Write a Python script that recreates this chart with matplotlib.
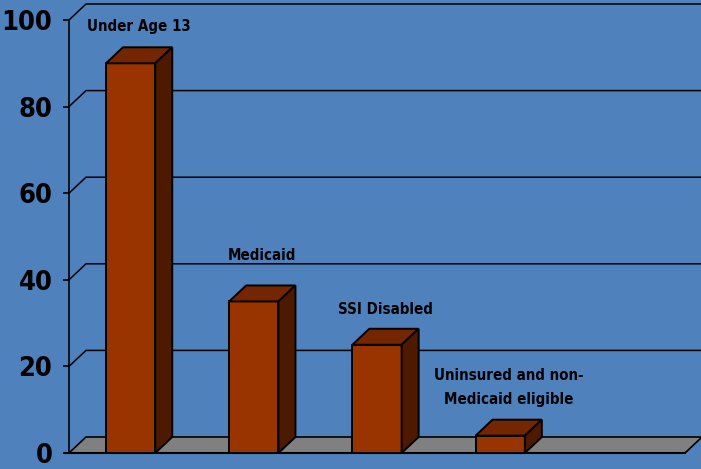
import matplotlib.pyplot as plt
from matplotlib.patches import Polygon, Rectangle

categories = ['Under Age 13', 'Medicaid', 'SSI Disabled', 'Uninsured and non-\nMedicaid eligible']
values = [90, 35, 25, 4]
yticks = [0, 20, 40, 60, 80, 100]

n_slots = 5
bar_w = 0.4
dx = 17 * n_slots / 616.0   # depth offset, x units
dy = 16 * 100 / 433.0       # depth offset, y units
label_pad = [3.0, 5.3, 2.6, 2.9]

bg = '#4F81BD'
front_c = '#993300'
top_c = '#732600'
side_c = '#4D1A00'

plt.rcParams['font.family'] = ['DejaVu Sans']
plt.rcParams['font.stretch'] = 'condensed'

fig = plt.figure(figsize=(7.01, 4.69), dpi=100, facecolor=bg)
ax = fig.add_axes([69 / 701, 16 / 469, 616 / 701, 433 / 469])
ax.set_facecolor(bg)
ax.set_xlim(0, n_slots)
ax.set_ylim(0, 100)

for s in ['top', 'right', 'bottom']:
    ax.spines[s].set_visible(False)
ax.spines['left'].set_linewidth(1.2)
ax.set_xticks([])
ax.set_yticks(yticks)
ax.tick_params(axis='y', length=4, width=1.2, pad=8, labelsize=19.5)
for t in ax.get_yticklabels():
    t.set_fontweight('bold')
    t.set_fontstretch('condensed')

# back wall gridlines
for v in yticks[1:]:
    ax.plot([0, dx, n_slots + dx + 0.2], [v, v + dy, v + dy],
            color='black', lw=1.1, clip_on=False, zorder=1)

# floor
floor = Polygon([(0, 0), (n_slots, 0), (n_slots + dx, dy), (dx, dy)], closed=True,
                facecolor='#808080', edgecolor='black', lw=1.2, clip_on=False, zorder=2)
ax.add_patch(floor)
ax.plot([-0.03, n_slots], [0, 0], color='black', lw=1.5, clip_on=False, zorder=2)

for i, (cat, v) in enumerate(zip(categories, values)):
    x0 = i + 0.5 - bar_w / 2
    x1 = x0 + bar_w
    ax.add_patch(Rectangle((x0, 0), bar_w, v, facecolor=front_c, edgecolor='black',
                           lw=1.4, clip_on=False, zorder=3))
    ax.add_patch(Polygon([(x0, v), (x1, v), (x1 + dx, v + dy), (x0 + dx, v + dy)],
                         closed=True, facecolor=top_c, edgecolor='black', lw=1.4,
                         clip_on=False, zorder=3))
    ax.add_patch(Polygon([(x1, 0), (x1 + dx, dy), (x1 + dx, v + dy), (x1, v)],
                         closed=True, facecolor=side_c, edgecolor='black', lw=1.4,
                         clip_on=False, zorder=3))
    ax.text(i + 0.5 + dx / 2, v + dy + label_pad[i], cat, ha='center', va='bottom',
            fontsize=10.8, fontweight='bold', fontstretch='condensed',
            linespacing=1.8, clip_on=False, zorder=4)

fig.savefig('out.png', dpi=100, facecolor=bg)
